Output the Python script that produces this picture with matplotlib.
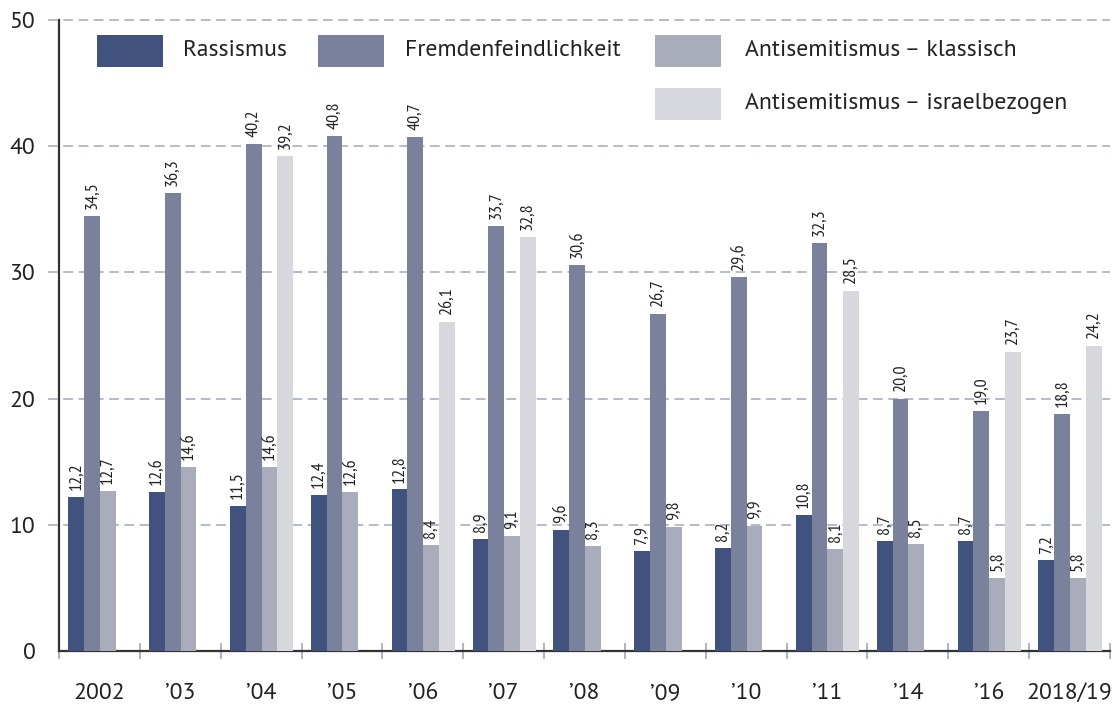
import numpy as np
import matplotlib
matplotlib.use("Agg")
import matplotlib.pyplot as plt
from matplotlib.patches import Rectangle

# data (values in percent)
years = ['2002', '\u201903', '\u201904', '\u201905', '\u201906', '\u201907', '\u201908',
         '\u201909', '\u201910', '\u201911', '\u201914', '\u201916', '2018/19']
rassismus = [12.2, 12.6, 11.5, 12.4, 12.8, 8.9, 9.6, 7.9, 8.2, 10.8, 8.7, 8.7, 7.2]
fremdenfeindlichkeit = [34.5, 36.3, 40.2, 40.8, 40.7, 33.7, 30.6, 26.7, 29.6, 32.3, 20.0, 19.0, 18.8]
antisem_klassisch = [12.7, 14.6, 14.6, 12.6, 8.4, 9.1, 8.3, 9.8, 9.9, 8.1, 8.5, 5.8, 5.8]
antisem_israel = [np.nan, np.nan, 39.2, np.nan, 26.1, 32.8, np.nan, np.nan, np.nan, 28.5, np.nan, 23.7, 24.2]

series_names = ['Rassismus', 'Fremdenfeindlichkeit', 'Antisemitismus \u2013 klassisch',
                'Antisemitismus \u2013 israelbezogen']
colors = ['#40527d', '#7a819c', '#a9adbb', '#d6d8de']

plt.rcParams['font.family'] = ['PT Sans', 'DejaVu Sans']
plt.rcParams['lines.scale_dashes'] = False

W, H = 1117, 706
fig = plt.figure(figsize=(W / 100, H / 100), dpi=100)
ax = fig.add_axes([59 / W, 1 - 651 / H, (1110 - 59) / W, (651 - 20) / H])

x = np.arange(len(years))
bar_w = 0.195
start = -0.5 + 0.115
all_series = [rassismus, fremdenfeindlichkeit, antisem_klassisch, antisem_israel]

for i, vals in enumerate(all_series):
    vals = np.array(vals, dtype=float)
    pos = x + start + i * bar_w + bar_w / 2
    ok = ~np.isnan(vals)
    ax.bar(pos[ok], vals[ok], width=bar_w, color=colors[i], zorder=3, linewidth=0)
    for p, v in zip(pos[ok], vals[ok]):
        ax.annotate(f"{v:.1f}".replace('.', ','), (p, v), xytext=(0, 5),
                    textcoords='offset points', rotation=90, ha='center', va='bottom',
                    fontsize=13, family=['PT Sans Narrow', 'DejaVu Sans'], color='#222222')

ax.set_xlim(-0.5, len(years) - 0.5)
ax.set_ylim(0, 50)

# dashed gridlines, reaching a little left of the y axis
for yv in [10, 20, 30, 40, 50]:
    ax.axhline(yv, xmin=-0.0105, xmax=1, color='#b0b4c6', lw=1.3, dashes=(7, 4),
               clip_on=False, zorder=0)

for s in ['top', 'right']:
    ax.spines[s].set_visible(False)
ax.spines['left'].set_color('#333333')
ax.spines['left'].set_linewidth(1.6)
ax.spines['bottom'].set_color('#333333')
ax.spines['bottom'].set_linewidth(1.6)

ax.set_yticks([0, 10, 20, 30, 40, 50])
ax.tick_params(axis='y', length=0, pad=17, labelsize=17, labelcolor='#222222')

ax.set_xticks(np.arange(len(years) + 1) - 0.5)
ax.set_xticklabels([])
ax.set_xticks(x, minor=True)
ax.set_xticklabels(years, minor=True)
ax.tick_params(axis='x', which='major', direction='inout', length=11, width=1.3, color='#a9aec3')
ax.tick_params(axis='x', which='minor', length=0, pad=23, labelsize=17, labelcolor='#222222')

# legend drawn by hand: two rows, patches plus labels
def px(xp, yp):
    return xp / W, 1 - yp / H

legend_items = [(97, 35, 183), (318, 35, 405), (655, 35, 745), (655, 88, 745)]
for (lx, ly, tx), name, c in zip(legend_items, series_names, colors):
    x0, y0 = px(lx, ly + 32)
    fig.patches.append(Rectangle((x0, y0), 66 / W, 32 / H, transform=fig.transFigure,
                                 facecolor=c, edgecolor='none'))
    tx0, ty0 = px(tx, ly + 16)
    fig.text(tx0, ty0, name, ha='left', va='center', fontsize=17, color='#222222')

fig.savefig('out.png', dpi=100)
